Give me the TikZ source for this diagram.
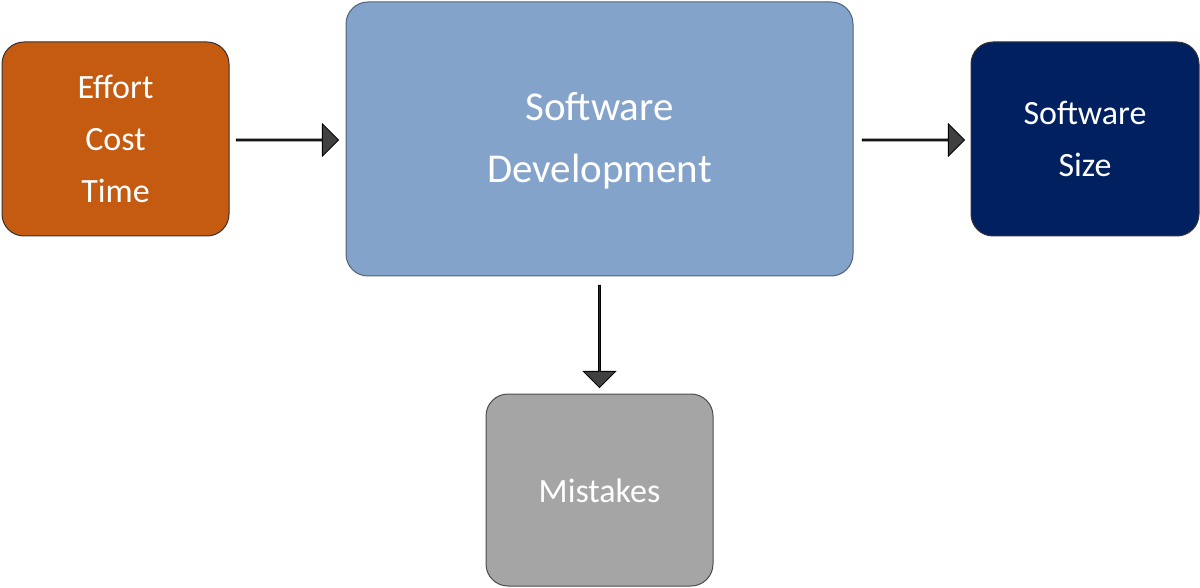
\documentclass[tikz,border=0pt]{standalone}
\usepackage{fontspec}
\setmainfont{Carlito}
\usetikzlibrary{shapes.arrows}
\definecolor{orng}{HTML}{C55A11}
\definecolor{sdblue}{HTML}{84A3CA}
\definecolor{navy}{HTML}{002060}
\definecolor{mgray}{HTML}{A5A5A5}
\definecolor{agray}{HTML}{404040}
\begin{document}
\begin{tikzpicture}[x=1pt,y=-1pt,
  box/.style={rounded corners=22pt,line width=1pt,text=white,align=center},
  barrow/.style={single arrow,draw=black,fill=agray,line width=1pt,minimum width=32pt,single arrow head extend=8pt,inner sep=0pt,minimum height=102pt}]
\useasboundingbox (0,0) rectangle (1200,588);
\draw[box,fill=orng,draw=black!80] (2,42) rectangle (229,236);
\node[text=white,align=center,font=\fontsize{34}{52}\selectfont] (eff) at (115.5,139) {Effort\\Cost\\Time};
\draw[box,fill=sdblue,draw=sdblue!60!black] (346,2) rectangle (853,276);
\node[text=white,align=center,font=\fontsize{41}{62}\selectfont] (sd) at (599.5,141) {Software\\Development};
\draw[box,fill=navy,draw=black!80] (971,42) rectangle (1199,236);
\node[text=white,align=center,font=\fontsize{34}{52}\selectfont] (ss) at (1085,139) {Software\\Size};
\draw[box,fill=mgray,draw=black!70] (486,394) rectangle (713,586);
\node[text=white,font=\fontsize{34}{52}\selectfont] (mis) at (599.5,491) {Mistakes};
\node[barrow] (a1) at (287,140) {};
\node[barrow] (a2) at (913,140) {};
\node[barrow,rotate=-90] (a3) at (599.5,336) {};
\end{tikzpicture}
\end{document}
